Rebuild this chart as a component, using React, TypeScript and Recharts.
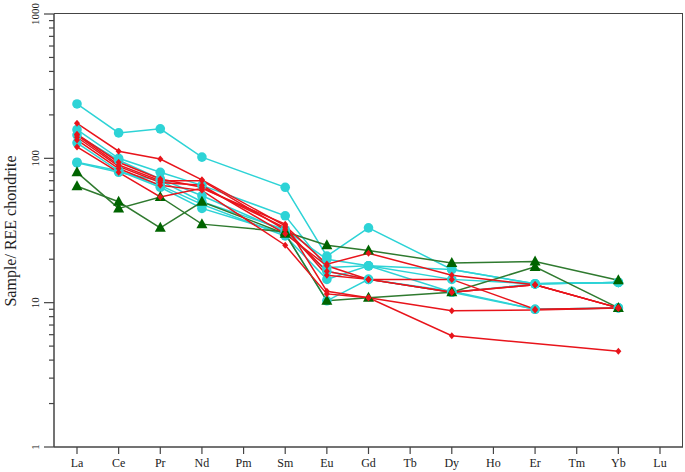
import { Line, LineChart, XAxis, YAxis } from "recharts";

const elements = ["La", "Ce", "Pr", "Nd", "Pm", "Sm", "Eu", "Gd", "Tb", "Dy", "Ho", "Er", "Tm", "Yb", "Lu"];

// chondrite-normalised values; null = not analysed (Pm, Tb, Ho, Tm, Lu)
const cyan1 = [238, 150, 160, 102, null, 63, 21, 33, null, 17, null, 13.5, null, 13.8, null];
const cyan2 = [158, 100, 80, 65, null, 40, 17.5, 18, null, 14.5, null, 13.5, null, 13.8, null];
const cyan3 = [145, 97, 72, 55, null, 31, 16.5, 14.5, null, 12, null, 9, null, 9.2, null];
const cyan4 = [128, 82, 65, 48, null, 29, 14.5, 18, null, 11.8, null, 13.5, null, 13.8, null];
const cyan5 = [94, 82, 63, 45, null, 30, 10.3, 14.5, null, 11.8, null, 9, null, 9.2, null];
const cyan6 = [93, 80, 70, 50, null, 32, 20, 18, null, 17, null, 13.5, null, 13.8, null];

const green1 = [80, 45, 54, 35, null, 31, 25, 23, null, 18.8, null, 19.3, null, 14.3, null];
const green2 = [64, 50, 33, 50, null, 30, 10.3, 10.8, null, 11.8, null, 17.7, null, 9.2, null];

const red1 = [175, 112, 99, 71, null, 34, 18.5, 22, null, 15.5, null, 13.3, null, 9.2, null];
const red2 = [147, 94, 72, 63, null, 33, 15.5, 14.5, null, 11.8, null, 13.3, null, 9.2, null];
const red3 = [140, 88, 68, 65, null, 30, 18, 14.5, null, 14.5, null, 9, null, 9.2, null];
const red4 = [134, 85, 65, 60, null, 25, 11.5, 10.8, null, 5.9, null, null, null, 4.6, null];
const red5 = [120, 80, 54, 62, null, 35, 12, 10.8, null, 8.8, null, 8.9, null, 9.2, null];
const red6 = [145, 90, 70, 70, null, 32, 16.5, 14.5, null, 11.8, null, 13.3, null, 9.2, null];

const yTicks = [1, 2, 3, 4, 5, 6, 7, 8, 9, 10, 20, 30, 40, 50, 60, 70, 80, 90, 100, 200, 300, 400, 500, 600, 700, 800, 900, 1000];

const RED = "#e8141b";
const CYAN = "#2dd3d6";
const GREEN_DOT = "#006400";
const GREEN_LINE = "#2f7a2f";
const AXIS = "#444";

type Series = { key: string; values: (number | null)[]; kind: "cyan" | "green" | "red" };

const series: Series[] = [
  { key: "c1", values: cyan1, kind: "cyan" },
  { key: "c2", values: cyan2, kind: "cyan" },
  { key: "c3", values: cyan3, kind: "cyan" },
  { key: "c4", values: cyan4, kind: "cyan" },
  { key: "c5", values: cyan5, kind: "cyan" },
  { key: "c6", values: cyan6, kind: "cyan" },
  { key: "g1", values: green1, kind: "green" },
  { key: "g2", values: green2, kind: "green" },
  { key: "r1", values: red1, kind: "red" },
  { key: "r2", values: red2, kind: "red" },
  { key: "r3", values: red3, kind: "red" },
  { key: "r4", values: red4, kind: "red" },
  { key: "r5", values: red5, kind: "red" },
  { key: "r6", values: red6, kind: "red" },
];

const rows = elements.map((el, i) => {
  const row: Record<string, string | number | null> = { el };
  series.forEach((s) => {
    row[s.key] = s.values[i];
  });
  return row;
});

function makeDot(kind: Series["kind"]) {
  return (props: any) => {
    const { cx, cy, index, dataKey, value } = props;
    const k = `${dataKey}-${index}`;
    if (cx == null || cy == null || value == null) return <g key={k} />;
    if (kind === "cyan") return <circle key={k} cx={cx} cy={cy} r={4.8} fill={CYAN} />;
    if (kind === "green")
      return (
        <polygon key={k} points={`${cx},${cy - 6} ${cx + 5.5},${cy + 4} ${cx - 5.5},${cy + 4}`} fill={GREEN_DOT} />
      );
    return (
      <polygon key={k} points={`${cx},${cy - 3.5} ${cx + 3},${cy} ${cx},${cy + 3.5} ${cx - 3},${cy}`} fill={RED} />
    );
  };
}

function YTick({ x, y, payload }: any) {
  const v = payload.value;
  const major = v === 1 || v === 10 || v === 100 || v === 1000;
  return (
    <g>
      <line x1={x - (major ? 10 : 5)} x2={x} y1={y} y2={y} stroke={AXIS} strokeWidth={1.2} />
      {major && (
        <text
          transform={`translate(${x - 15},${y}) rotate(-90)`}
          textAnchor="middle"
          fontSize={11}
          fontFamily="Liberation Serif, serif"
          fill="#222"
        >
          {v}
        </text>
      )}
    </g>
  );
}

function XTick({ x, y, payload }: any) {
  return (
    <g>
      <line x1={x} x2={x} y1={y} y2={y + 7} stroke={AXIS} strokeWidth={1.2} />
      <text x={x} y={y + 20} textAnchor="middle" fontSize={12} fontFamily="Liberation Serif, serif" fill="#222">
        {payload.value}
      </text>
    </g>
  );
}

export default function App() {
  return (
    <div style={{ position: "absolute", left: 0, top: 0, width: 685, height: 472, background: "#fff" }}>
      <LineChart width={685} height={472} data={rows} margin={{ top: 14, right: 2, bottom: 0, left: 0 }}>
        <XAxis
          dataKey="el"
          type="category"
          height={25}
          padding={{ left: 23, right: 23 }}
          tickSize={0}
          tickMargin={0}
          interval={0}
          tick={<XTick />}
          axisLine={{ stroke: AXIS, strokeWidth: 1.5 }}
          tickLine={false}
        />
        <YAxis
          type="number"
          scale="log"
          domain={[1, 1000]}
          allowDataOverflow
          ticks={yTicks}
          interval={0}
          width={54}
          tickSize={0}
          tickMargin={0}
          tick={<YTick />}
          tickLine={false}
          axisLine={{ stroke: AXIS, strokeWidth: 1.5 }}
          label={{
            content: () => (
              <text
                transform="translate(16,231) rotate(-90)"
                textAnchor="middle"
                fontSize={16}
                fontFamily="Liberation Serif, serif"
                fill="#222"
              >
                Sample/ REE chondrite
              </text>
            ),
          }}
        />
        {series.map((s) => (
          <Line
            key={s.key}
            dataKey={s.key}
            type="linear"
            connectNulls
            stroke={s.kind === "red" ? RED : s.kind === "cyan" ? CYAN : GREEN_LINE}
            strokeWidth={1.5}
            dot={makeDot(s.kind)}
            activeDot={false}
            isAnimationActive={false}
          />
        ))}
      </LineChart>
      {/* top and right edges of the plot frame */}
      <div
        style={{
          position: "absolute",
          left: 54,
          top: 13,
          width: 629,
          height: 434,
          borderTop: `1.5px solid ${AXIS}`,
          borderRight: `1.5px solid ${AXIS}`,
          boxSizing: "border-box",
          pointerEvents: "none",
        }}
      />
    </div>
  );
}
